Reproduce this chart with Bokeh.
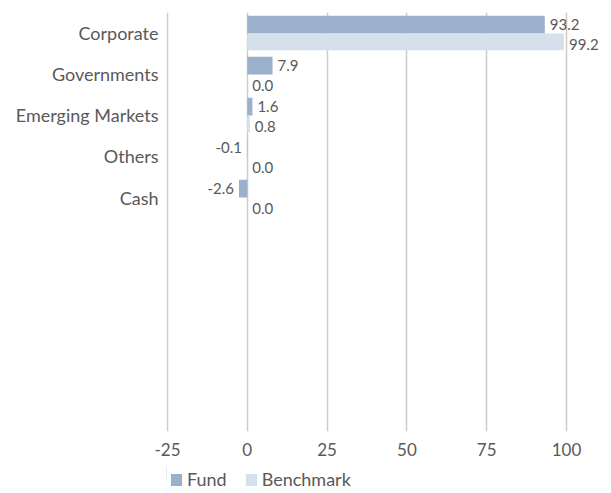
from bokeh.plotting import figure
from bokeh.layouts import column
from bokeh.models import (Range1d, FixedTicker, ColumnDataSource, Legend, LegendItem)
from bokeh.core.properties import value
from bokeh.embed import file_html
from bokeh.resources import INLINE

categories = ["Corporate", "Governments", "Emerging Markets", "Others", "Cash"]
fund = [93.2, 7.9, 1.6, -0.1, -2.6]
benchmark = [99.2, 0.0, 0.8, 0.0, 0.0]
x_ticks = [-25, 0, 25, 50, 75, 100]

FONT = "Lato"
TXT = "#595959"
FUND_C = "#9bb0ca"
BENCH_C = "#d6e0eb"

idx = list(range(len(categories)))

p = figure(width=611, height=467, output_backend="svg", toolbar_location=None,
           x_range=Range1d(-25.313, 113.16), y_range=Range1d(9.707, -0.512),
           min_border_left=166, min_border_right=3, min_border_top=12,
           min_border_bottom=36)
p.outline_line_color = None
p.background_fill_color = "white"

fund_src = ColumnDataSource(dict(
    y=[i - 0.215 for i in idx], x=fund,
    lab=[f"{v:.1f}" for v in fund],
    align=["left" if v >= 0 else "right" for v in fund],
    off=[5 if v >= 0 else -5 for v in fund]))
bench_src = ColumnDataSource(dict(
    y=[i + 0.205 for i in idx], x=benchmark,
    lab=[f"{v:.1f}" for v in benchmark],
    align=["left" if v >= 0 else "right" for v in benchmark],
    off=[5 if v >= 0 else -5 for v in benchmark]))

r_f = p.hbar(y="y", left=0, right="x", height=0.43, source=fund_src,
             fill_color=FUND_C, line_color=None)
r_b = p.hbar(y="y", left=0, right="x", height=0.41, source=bench_src,
             fill_color=BENCH_C, line_color=None)

p.text(x="x", y="y", text="lab", source=fund_src, text_align="align",
       x_offset="off", text_baseline="middle", text_font=value(FONT),
       text_font_size="15px", text_color=TXT)
p.text(x="x", y="y", text="lab", source=bench_src, text_align="align",
       x_offset="off", y_offset=3, text_baseline="middle", text_font=value(FONT),
       text_font_size="15px", text_color=TXT)

# axes
p.xaxis.ticker = FixedTicker(ticks=x_ticks)
p.xaxis.major_label_overrides = {t: str(t) for t in x_ticks}
p.xaxis.axis_line_color = None
p.xaxis.major_tick_line_color = None
p.xaxis.minor_tick_line_color = None
p.xaxis.major_tick_out = 0
p.xaxis.major_tick_in = 0
p.xaxis.major_label_standoff = 11
p.xaxis.major_label_text_font = FONT
p.xaxis.major_label_text_font_size = "17px"
p.xaxis.major_label_text_color = TXT

p.yaxis.ticker = FixedTicker(ticks=idx)
p.yaxis.major_label_overrides = {i: c for i, c in zip(idx, categories)}
p.yaxis.axis_line_color = None
p.yaxis.major_tick_line_color = None
p.yaxis.minor_tick_line_color = None
p.yaxis.major_tick_out = 0
p.yaxis.major_tick_in = 0
p.yaxis.major_label_standoff = 8
p.yaxis.major_label_text_font = FONT
p.yaxis.major_label_text_font_size = "18px"
p.yaxis.major_label_text_color = TXT

p.xgrid.ticker = FixedTicker(ticks=x_ticks)
p.xgrid.grid_line_color = "#cccccc"
p.xgrid.grid_line_width = 1.5
p.ygrid.grid_line_color = None

# legend strip below the chart
lg = figure(width=611, height=26, output_backend="svg", toolbar_location=None,
            x_range=Range1d(1000, 1001), y_range=Range1d(0, 1),
            x_axis_type=None, y_axis_type=None, min_border=0)
lg.outline_line_color = None
lg.background_fill_color = "white"
lg.border_fill_color = "white"
lg.grid.grid_line_color = None
lf = lg.hbar(y="y", left=0, right="x", height=0.43, source=fund_src,
             fill_color=FUND_C, line_color=None)
lb = lg.hbar(y="y", left=0, right="x", height=0.41, source=bench_src,
             fill_color=BENCH_C, line_color=None)
legend = Legend(items=[LegendItem(label="Fund", renderers=[lf]),
                       LegendItem(label="Benchmark", renderers=[lb])],
                orientation="horizontal", location=(3, 3),
                margin=0, padding=0, spacing=17, label_standoff=4,
                glyph_width=14, glyph_height=15, label_height=15,
                label_text_font=FONT, label_text_font_size="18px",
                label_text_color=TXT, border_line_color=None,
                background_fill_alpha=0)
lg.add_layout(legend)

open("out.html", "w").write(file_html(column(p, lg, spacing=0), INLINE))
